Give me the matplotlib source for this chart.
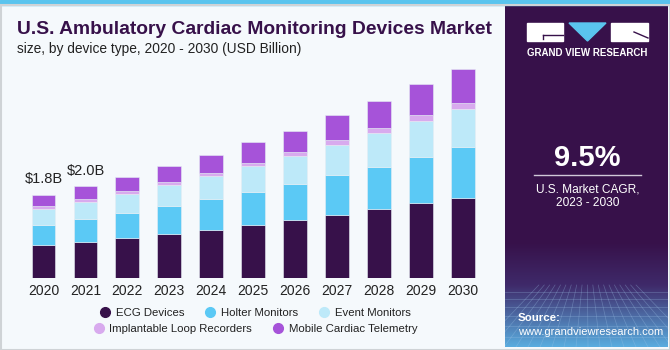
"""
U.S. Ambulatory Cardiac Monitoring Devices Market - stacked bar chart
"""
import matplotlib
matplotlib.use('Agg')
import matplotlib.pyplot as plt
from matplotlib.patches import Rectangle, Polygon
from matplotlib.colors import to_rgb
import numpy as np

BG_COLOR = '#f5f9fc'
PANEL_COLOR = '#37114a'
STRIP_COLOR = '#5ac4ee'
BORDER_COLOR = '#cfd3d6'
TEXT_COLOR = '#222222'
FONT = 'Liberation Sans'

# Data (USD Billion)
years = ['2020', '2021', '2022', '2023', '2024', '2025', '2026', '2027', '2028', '2029', '2030']
ecg = [0.72, 0.78, 0.86, 0.96, 1.04, 1.14, 1.25, 1.37, 1.48, 1.61, 1.73]
holter = [0.43, 0.49, 0.54, 0.59, 0.66, 0.72, 0.79, 0.85, 0.92, 1.01, 1.09]
event = [0.35, 0.38, 0.42, 0.46, 0.51, 0.56, 0.60, 0.66, 0.73, 0.78, 0.84]
ilr = [0.05, 0.06, 0.06, 0.06, 0.06, 0.07, 0.09, 0.09, 0.10, 0.11, 0.12]
mct = [0.25, 0.27, 0.31, 0.35, 0.38, 0.44, 0.45, 0.54, 0.60, 0.67, 0.73]

series_names = ['ECG Devices', 'Holter Monitors', 'Event Monitors',
                'Implantable Loop Recorders', 'Mobile Cardiac Telemetry']
series_colors = ['#37114a', '#5bc9f5', '#bde9f9', '#d8aaee', '#a653d9']
total_labels = ['$1.8B', '$2.0B']

W, H = 670, 350

fig = plt.figure(figsize=(6.7, 3.5), dpi=100, facecolor=BG_COLOR)

# ---- main chart ----
ax = fig.add_axes([22.6 / W, 72 / H, 461 / W, 231.5 / H])
ax.set_facecolor('none')
x = np.arange(len(years))
bottom = np.zeros(len(years))
for name, vals, color in zip(series_names, [ecg, holter, event, ilr, mct], series_colors):
    ax.bar(x, vals, width=0.57, bottom=bottom, color=color, label=name,
           edgecolor='#e6eef4', linewidth=0.4)
    bottom += np.array(vals)

for i, lbl in enumerate(total_labels):
    ax.annotate(lbl, (x[i], bottom[i]), xytext=(0, 11), textcoords='offset points',
                ha='center', va='center', fontsize=10.5, color=TEXT_COLOR, family=FONT)

ax.set_xlim(-0.5, len(years) - 0.5)
ax.set_ylim(0, 5)
ax.set_xticks(x)
ax.set_xticklabels(years, fontsize=10, color=TEXT_COLOR, family=FONT)
ax.tick_params(axis='x', length=0, pad=4)
ax.set_yticks([])
for spine in ax.spines.values():
    spine.set_visible(False)

# ---- legend in two rows ----
handles = [plt.Line2D([], [], marker='o', linestyle='', markersize=7,
                      markerfacecolor=c, markeredgecolor=c) for c in series_colors]
leg_kw = dict(frameon=False, handletextpad=0.45, columnspacing=1.75, handlelength=1.0,
              prop={'family': FONT, 'size': 8.2}, labelcolor=TEXT_COLOR)
leg1 = fig.legend(handles[:3], series_names[:3], ncol=3, loc='center',
                  bbox_to_anchor=(255 / W, 1 - 313 / H), **leg_kw)
leg2 = fig.legend(handles[3:], series_names[3:], ncol=2, loc='center',
                  bbox_to_anchor=(255 / W, 1 - 329 / H), **leg_kw)

# ---- title ----
fig.text(17 / W, 1 - 30 / H, 'U.S. Ambulatory Cardiac Monitoring Devices Market',
         fontsize=13.9, fontweight='bold', color=PANEL_COLOR, family=FONT, va='center')
fig.text(17 / W, 1 - 49 / H, 'size, by device type, 2020 - 2030 (USD Billion)',
         fontsize=9.9, color=TEXT_COLOR, family=FONT, va='center')

# ---- right panel ----
pax = fig.add_axes([505 / W, 3 / H, 163 / W, 342 / H])
pax.set_xlim(505, 668)
pax.set_ylim(345, 3)
pax.axis('off')

# gradient background: purple fading to blue at the bottom
n = 342
top_rgb = np.array(to_rgb(PANEL_COLOR))
mid_rgb = np.array(to_rgb('#3f2a6a'))
bot_rgb = np.array(to_rgb('#5aaee0'))
grad = np.zeros((n, 1, 3))
for i in range(n):
    y = 3 + i
    if y < 240:
        grad[i, 0] = top_rgb
    elif y < 283:
        t = (y - 240) / 43
        grad[i, 0] = top_rgb * (1 - t) + mid_rgb * t
    else:
        t = (y - 283) / 62
        grad[i, 0] = mid_rgb * (1 - t) + bot_rgb * t
pax.imshow(grad, extent=[505, 668, 345, 3], aspect='auto', zorder=0)

# faint grid texture at the bottom
for yy in [290, 297, 305, 314, 324, 335]:
    pax.plot([505, 668], [yy, yy], color='#9fc4e8', lw=0.5, alpha=0.35, zorder=1)
for xx in range(480, 700, 12):
    pax.plot([587 + (xx - 587) * 0.45, xx], [283, 345], color='#9fc4e8', lw=0.5,
             alpha=0.35, zorder=1)

# logo
pax.add_patch(Rectangle((527, 21), 36, 18, color='white', zorder=2))
pax.plot([543, 563], [33, 33], color=PANEL_COLOR, lw=1.0, zorder=3)
pax.plot([543, 543], [33, 37], color=PANEL_COLOR, lw=1.0, zorder=3)
pax.add_patch(Polygon([(569, 21), (606, 21), (587.5, 39)], closed=True,
                      color=STRIP_COLOR, zorder=2))
pax.add_patch(Rectangle((611, 21), 37, 18, color='white', zorder=2))
pax.plot([634, 648], [30, 36], color=PANEL_COLOR, lw=1.0, zorder=3)
pax.text(587.5, 51, 'GRAND VIEW RESEARCH', color='white', fontsize=7.0,
         fontweight='bold', ha='center', va='center', family=FONT, zorder=3)

pax.text(587.5, 156, '9.5%', color='white', fontsize=21, fontweight='bold',
         ha='center', va='center', family=FONT, zorder=3)
pax.plot([534, 641], [173, 173], color='#d0c8d8', lw=1.0, zorder=3)
pax.text(587.5, 187, 'U.S. Market CAGR,', color='white', fontsize=8.6,
         ha='center', va='center', family=FONT, zorder=3)
pax.text(587.5, 201, '2023 - 2030', color='white', fontsize=8.6,
         ha='center', va='center', family=FONT, zorder=3)
pax.text(518, 316, 'Source:', color='white', fontsize=8.2, fontweight='bold',
         ha='left', va='center', family=FONT, zorder=3)
pax.text(518, 330, 'www.grandviewresearch.com', color='white', fontsize=8.0,
         ha='left', va='center', family=FONT, zorder=3)

# top strip and border
fig.patches.append(Rectangle((0, 1 - 5 / H), 1, 5 / H, transform=fig.transFigure,
                             color=STRIP_COLOR, zorder=5))
fig.patches.append(Rectangle((0.5 / W, 0.5 / H), 1 - 1 / W, 1 - 5 / H, transform=fig.transFigure,
                             fill=False, edgecolor=BORDER_COLOR, lw=1.5, zorder=5))

fig.savefig('out.png', dpi=100, facecolor=BG_COLOR)
